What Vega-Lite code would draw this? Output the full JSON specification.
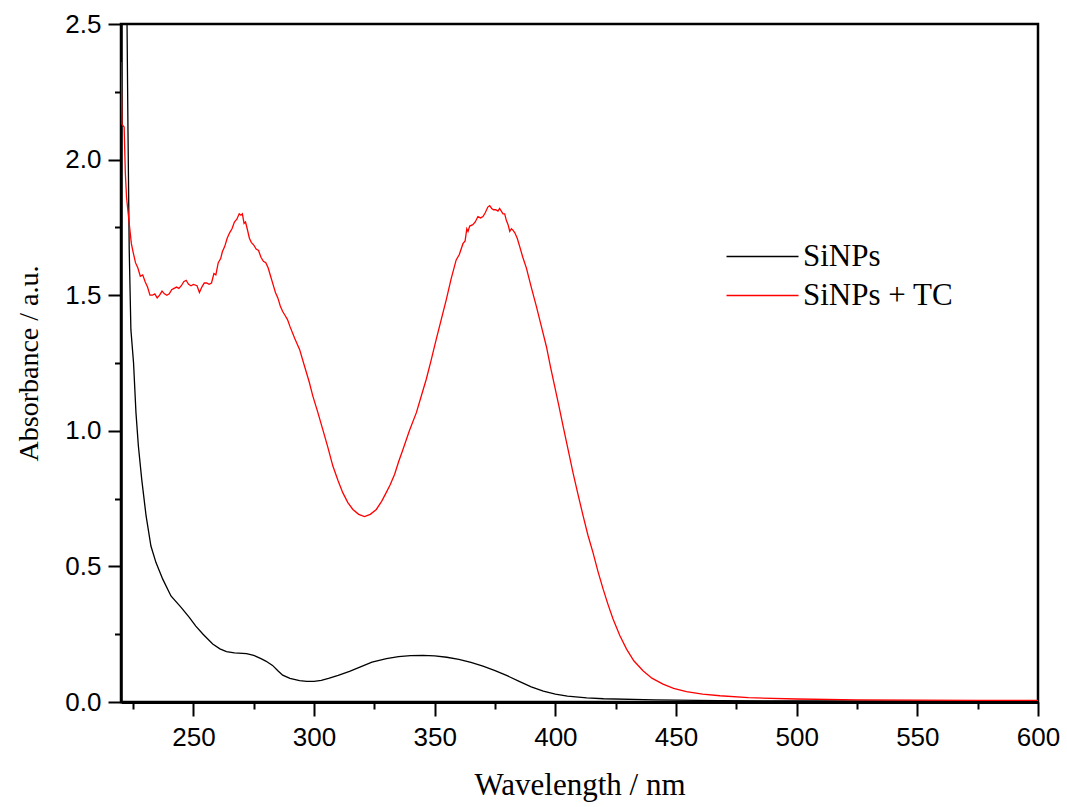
{
  "$schema": "https://vega.github.io/schema/vega-lite/v6.json",
  "width": 917,
  "height": 678,
  "autosize": {"type": "none"},
  "padding": {"left": 121, "top": 24, "right": 29, "bottom": 105},
  "background": "white",
  "config": {"view": {"stroke": "black", "strokeWidth": 2.5}},
  "datasets": {
    "black": [[222.2,2.75],[222.5,2.5],[222.9,2.1],[223.4,1.67],[224.1,1.373],[225.2,1.25],[226.2,1.067],[227.2,0.944],[228.6,0.82],[230.4,0.686],[232.4,0.575],[234.5,0.514],[237.3,0.453],[240.7,0.391],[244.9,0.349],[248.3,0.312],[251,0.28],[254,0.25],[258,0.214],[261,0.196],[263.7,0.186],[267,0.181],[272,0.178],[275,0.172],[278,0.16],[280,0.151],[282.8,0.135],[285,0.115],[287,0.099],[290,0.087],[294,0.079],[297,0.076],[300,0.076],[303,0.08],[306,0.087],[310,0.098],[314.7,0.113],[320,0.132],[324,0.147],[330,0.16],[335,0.167],[340,0.171],[345,0.172],[350,0.17],[355,0.165],[360,0.157],[365,0.146],[370,0.132],[375,0.116],[380,0.097],[385,0.076],[390,0.056],[395,0.04],[400,0.029],[405,0.022],[413,0.015],[420,0.012],[441,0.008],[468,0.005],[500,0.004],[550,0.003],[600,0.002]],
    "red": [[220,2.36],[220.4,2.13],[221.3,2.12],[221.8,1.95],[222.3,1.86],[223,1.8],[223.7,1.74],[224.3,1.69],[225,1.66],[226,1.62],[227,1.6],[228,1.57],[229,1.575],[230,1.55],[231,1.53],[232,1.5],[233,1.5],[234,1.505],[235,1.49],[236,1.5],[237,1.515],[238,1.505],[239,1.5],[240,1.505],[241,1.52],[242,1.525],[243,1.53],[244,1.525],[245,1.535],[246,1.55],[247,1.555],[248,1.54],[249,1.535],[250,1.54],[251.5,1.535],[252.5,1.51],[253.5,1.53],[254.5,1.545],[255.5,1.545],[256.5,1.54],[257.5,1.545],[258.5,1.58],[259.3,1.575],[260.3,1.62],[261.3,1.635],[262,1.66],[263,1.68],[264,1.71],[265,1.73],[266,1.745],[267,1.77],[268,1.78],[269,1.8],[269.7,1.795],[270.3,1.8],[271,1.765],[271.6,1.77],[272.3,1.745],[273.2,1.71],[274,1.695],[275,1.685],[276,1.67],[277,1.665],[278,1.64],[279,1.625],[280,1.62],[281,1.6],[282,1.57],[283,1.54],[284,1.51],[285,1.49],[286,1.46],[287,1.44],[288,1.425],[289,1.41],[290,1.385],[292,1.34],[294,1.3],[296,1.24],[298,1.18],[299.5,1.128],[301.5,1.07],[303.6,1.005],[305.7,0.94],[307.8,0.87],[310,0.815],[311.9,0.772],[314,0.735],[316.1,0.71],[318.5,0.692],[320.9,0.684],[323.3,0.692],[325.8,0.71],[328,0.74],[329.9,0.772],[331.5,0.8],[333.4,0.84],[335,0.885],[336.8,0.93],[339.5,1.0],[342.4,1.067],[344.5,1.13],[346.5,1.19],[348.5,1.26],[350.6,1.336],[352.7,1.41],[354.8,1.484],[356.8,1.56],[358.9,1.63],[360.2,1.65],[361.7,1.69],[362.6,1.7],[363.3,1.745],[363.8,1.735],[364.5,1.755],[365.8,1.76],[366.8,1.77],[367.9,1.79],[369,1.785],[370,1.79],[371,1.805],[372,1.825],[372.8,1.83],[373.6,1.82],[374.4,1.815],[375.3,1.815],[376.2,1.81],[376.9,1.82],[377.6,1.81],[378.3,1.8],[379,1.8],[379.7,1.775],[380.4,1.76],[381.1,1.735],[381.8,1.745],[382.4,1.74],[383.2,1.73],[384.2,1.71],[385.2,1.68],[386.5,1.64],[388,1.6],[390,1.53],[392.1,1.46],[394.2,1.385],[396.3,1.31],[398,1.235],[399.7,1.165],[401.5,1.09],[403.2,1.017],[405.3,0.93],[407.3,0.846],[409.4,0.765],[411.5,0.686],[413.5,0.615],[415.6,0.551],[417.7,0.48],[419.8,0.416],[421.8,0.36],[423.9,0.306],[426.7,0.245],[429.5,0.195],[432.5,0.152],[436.3,0.115],[440,0.088],[444.6,0.066],[449,0.05],[454.3,0.038],[461,0.029],[468.2,0.023],[480,0.016],[500,0.011],[525,0.008],[550,0.007],[575,0.006],[600,0.006]]
  },
  "layer": [
    {
      "data": {"name": "black"},
      "transform": [
        {"calculate": "datum[0]", "as": "wl"},
        {"calculate": "datum[1]", "as": "A"},
        {"calculate": "'SiNPs'", "as": "s"}
      ],
      "mark": {"type": "line", "clip": true, "strokeWidth": 1.3}
    },
    {
      "data": {"name": "red"},
      "transform": [
        {"calculate": "datum[0]", "as": "wl"},
        {"calculate": "datum[1]", "as": "A"},
        {"calculate": "'SiNPs + TC'", "as": "s"}
      ],
      "mark": {"type": "line", "clip": true, "strokeWidth": 1.3}
    }
  ],
  "encoding": {
    "x": {
      "field": "wl", "type": "quantitative",
      "scale": {"domain": [220, 600], "nice": false, "zero": false},
      "axis": {
        "title": "Wavelength / nm",
        "titleFont": "Liberation Serif", "titleFontSize": 31, "titleFontWeight": "normal", "titleColor": "black", "titlePadding": 20,
        "values": [225,250,275,300,325,350,375,400,425,450,475,500,525,550,575,600],
        "labelExpr": "datum.value % 50 === 0 ? format(datum.value, 'd') : ''",
        "labelFont": "Liberation Sans", "labelFontSize": 26, "labelColor": "black", "labelPadding": 8,
        "labelFlush": false, "labelOverlap": false,
        "tickSize": {"condition": {"test": "datum.value % 50 === 0", "value": 14}, "value": 7},
        "tickWidth": 2, "tickColor": "black",
        "domainColor": "black", "domainWidth": 3, "grid": false
      }
    },
    "y": {
      "field": "A", "type": "quantitative",
      "scale": {"domain": [0, 2.5], "nice": false},
      "axis": {
        "title": "Absorbance / a.u.",
        "titleFont": "Liberation Serif", "titleFontSize": 28, "titleFontWeight": "normal", "titleColor": "black", "titlePadding": 21,
        "values": [0,0.25,0.5,0.75,1,1.25,1.5,1.75,2,2.25,2.5],
        "labelExpr": "abs(datum.value*2 - round(datum.value*2)) < 0.001 ? format(datum.value, '.1f') : ''",
        "labelFont": "Liberation Sans", "labelFontSize": 26, "labelColor": "black", "labelPadding": 7,
        "labelFlush": false, "labelOverlap": false,
        "tickSize": {"condition": {"test": "abs(datum.value*2 - round(datum.value*2)) < 0.001", "value": 13}, "value": 6.5},
        "tickWidth": 2, "tickColor": "black",
        "domainColor": "black", "domainWidth": 2.5, "grid": false
      }
    },
    "color": {
      "field": "s", "type": "nominal",
      "scale": {"domain": ["SiNPs", "SiNPs + TC"], "range": ["black", "#ff0000"]},
      "legend": {
        "orient": "none", "legendX": 626, "legendY": 217, "title": null, "padding": 0,
        "symbolType": "M-6,0H6", "symbolSize": 144, "symbolStrokeWidth": 1.3,
        "labelFont": "Liberation Serif", "labelFontSize": 31, "labelColor": "black",
        "labelOffset": 25, "rowPadding": 7
      }
    }
  }
}
